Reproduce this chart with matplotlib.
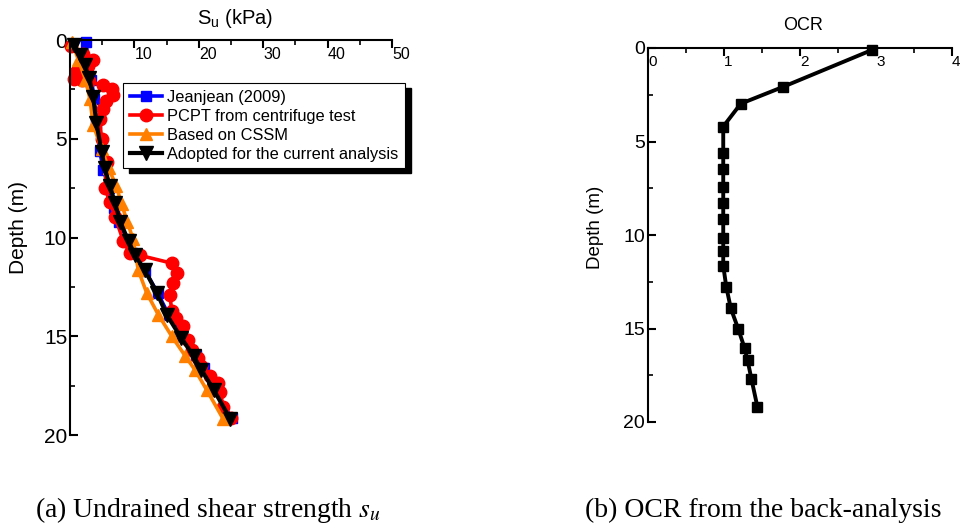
import matplotlib
matplotlib.use('Agg')
import matplotlib.pyplot as plt
from matplotlib.ticker import MultipleLocator
from matplotlib.patches import Rectangle

plt.rcParams['font.family'] = ['Liberation Sans', 'DejaVu Sans']
plt.rcParams['mathtext.fontset'] = 'stix'

# ---- (a) undrained shear strength profiles: su (kPa) vs depth (m)
jean_su = [2.5, 2.8, 3.3, 3.8, 4.1, 4.6, 5.2, 6.1, 6.8, 7.6, 8.9, 9.7, 11.7, 13.6, 15.3, 17.4, 19.6, 20.8, 22.5, 25.1]
jean_z = [0.1, 1.0, 2.0, 3.0, 4.2, 5.6, 6.6, 7.5, 8.5, 9.2, 10.1, 10.8, 11.7, 12.8, 13.9, 15.0, 15.95, 16.6, 17.7, 19.15]

pcpt_su = [0.2, 2.0, 3.5, 2.8, 1.0, 0.6, 1.8, 3.0, 5.2, 6.5, 6.6, 5.6, 5.2, 4.6, 4.9, 5.7, 5.4, 6.2, 7.0,
           8.3, 9.3, 10.8, 15.8, 16.6, 16.0, 15.5, 15.8, 16.5, 17.6, 18.3, 18.9, 19.8, 20.4,
           21.7, 23.0, 23.3, 23.8, 25.0]
pcpt_z = [0.3, 0.7, 1.0, 1.3, 1.6, 1.95, 2.05, 2.1, 2.3, 2.5, 2.8, 3.1, 3.5, 4.0, 5.0, 6.2, 7.5, 8.2, 8.95,
          10.2, 10.8, 10.9, 11.3, 11.8, 12.3, 12.9, 13.7, 14.1, 14.5, 15.2, 15.7, 16.1, 16.5,
          17.0, 17.35, 17.8, 18.6, 19.15]

cssm_su = [0.3, 1.3, 2.4, 3.1, 3.6, 4.9, 6.0, 7.2, 8.0, 8.9, 9.8, 10.6, 11.9, 13.7, 15.8, 17.9, 19.4, 21.2, 23.8]
cssm_z = [0.1, 1.0, 2.0, 3.0, 4.3, 5.5, 6.5, 7.4, 8.3, 9.2, 10.1, 11.65, 12.8, 13.9, 15.0, 16.0, 16.7, 17.7, 19.2]

adopt_su = [0.6, 1.55, 2.3, 3.0, 3.6, 4.1, 4.9, 5.4, 6.2, 7.0, 7.8, 9.1, 10.1, 11.6, 13.5, 15.0, 17.3, 19.2, 20.4, 22.3, 24.9]
adopt_z = [0.25, 0.76, 1.27, 1.94, 2.87, 4.2, 5.65, 6.5, 7.4, 8.27, 9.2, 10.2, 10.9, 11.65, 12.8, 13.9, 15.1, 16.0, 16.7, 17.7, 19.2]

# ---- (b) OCR from the back-analysis
ocr = [2.95, 1.77, 1.22, 0.99, 0.99, 0.99, 0.99, 0.99, 0.99, 0.99, 0.99, 0.99, 1.03, 1.09, 1.19, 1.27, 1.31, 1.36, 1.44]
ocr_z = [0.1, 2.09, 2.98, 4.2, 5.6, 6.48, 7.41, 8.3, 9.16, 10.18, 10.84, 11.64, 12.77, 13.93, 15.05, 16.04, 16.7, 17.68, 19.2]

su_ticks = [0, 10, 20, 30, 40, 50]
su_ticklabels = ['', '10', '20', '30', '40', '50']
ocr_ticks = [0, 1, 2, 3, 4]
ocr_ticklabels = ['0', '1', '2', '3', '4']
depth_ticks = [0, 5, 10, 15, 20]

fig = plt.figure(figsize=(9.64, 5.30), dpi=100)
ax1 = fig.add_axes([70/964, 1-435/530, 322/964, 395/530])
ax2 = fig.add_axes([648/964, 1-422/530, 304/964, 374/530])


def style(ax, xmax, xticks, xlabels, xminor, xfs, yfs, xpad):
    ax.set_xlim(0, xmax)
    ax.set_ylim(20, 0)
    for s in ['right', 'bottom']:
        ax.spines[s].set_visible(False)
    for s in ['top', 'left']:
        ax.spines[s].set_linewidth(1.5)
    ax.xaxis.set_ticks_position('top')
    ax.set_xticks(xticks)
    ax.set_xticklabels(xlabels, fontsize=xfs, ha='left')
    ax.xaxis.set_minor_locator(MultipleLocator(xminor))
    ax.set_yticks(depth_ticks)
    ax.set_yticklabels([str(t) for t in depth_ticks], fontsize=yfs)
    ax.yaxis.set_minor_locator(MultipleLocator(2.5))
    ax.tick_params(axis='x', which='both', direction='in', top=True, bottom=False,
                   labeltop=True, labelbottom=False, pad=xpad)
    ax.tick_params(axis='y', which='both', direction='in', left=True, right=False, pad=2)
    ax.tick_params(which='major', length=6, width=1.5)
    ax.tick_params(which='minor', length=3.5, width=1.2)


style(ax1, 50, su_ticks, su_ticklabels, 5, 11.5, 15, -15.5)
style(ax2, 4, ocr_ticks, ocr_ticklabels, 0.5, 11, 14, -15)

ax1.plot(jean_su, jean_z, color='#0000ff', lw=2.6, marker='s', ms=6.5, label='Jeanjean (2009)', clip_on=False)
ax1.plot(pcpt_su, pcpt_z, color='#ff0000', lw=2.6, marker='o', ms=9, label='PCPT from centrifuge test', clip_on=False)
ax1.plot(cssm_su, cssm_z, color='#ff8000', lw=2.6, marker='^', ms=9, label='Based on CSSM', clip_on=False)
ax1.plot(adopt_su, adopt_z, color='black', lw=3, marker='v', ms=9.5, label='Adopted for the current analysis', clip_on=False)

leg = ax1.legend(loc='upper left', bbox_to_anchor=(123/964, 1-83/530), bbox_transform=fig.transFigure,
                 fontsize=11.8, frameon=True, fancybox=False, shadow=False,
                 edgecolor='black', framealpha=1, borderpad=0.4, labelspacing=0.25,
                 handlelength=2.0, handletextpad=0.3, borderaxespad=0)
leg.get_frame().set_linewidth(0.8)

# solid black drop shadow behind the legend box
fig.canvas.draw()
bb = leg.get_window_extent()
ax1.add_patch(Rectangle((bb.x0 + 6, bb.y0 - 5), bb.width, bb.height, transform=None,
                        facecolor='black', edgecolor='black', zorder=4.9, clip_on=False))

ax2.plot(ocr, ocr_z, color='black', lw=2.8, marker='s', ms=7, clip_on=False)

fig.text(235/964, 1-18/530, r'$\mathregular{S_u}$ (kPa)', ha='center', va='center', fontsize=14.5)
fig.text(19/964, 1-227.5/530, 'Depth (m)', rotation=90, ha='center', va='center', fontsize=15)
fig.text(803/964, 1-26/530, 'OCR', ha='center', va='center', fontsize=13)
fig.text(595/964, 1-227/530, 'Depth (m)', rotation=90, ha='center', va='center', fontsize=13.5)

fig.text(35/964, 1-517/530, r'(a) Undrained shear strength $s_u$', family=['Liberation Serif'],
         fontsize=20, va='baseline', ha='left')
fig.text(585/964, 1-517/530, '(b) OCR from the back-analysis', family=['Liberation Serif'],
         fontsize=20, va='baseline', ha='left')

fig.savefig('out.png', dpi=100)
